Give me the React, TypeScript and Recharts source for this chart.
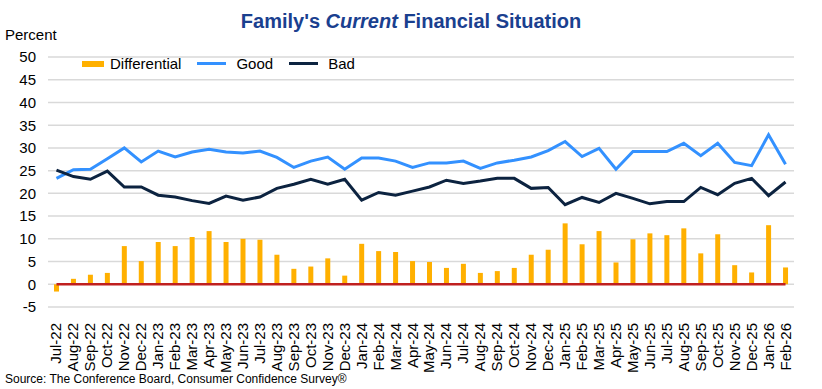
import { ComposedChart, Bar, Line, XAxis, YAxis, CartesianGrid, ReferenceLine } from 'recharts';

const months = [
  'Jul-22', 'Aug-22', 'Sep-22', 'Oct-22', 'Nov-22', 'Dec-22',
  'Jan-23', 'Feb-23', 'Mar-23', 'Apr-23', 'May-23', 'Jun-23', 'Jul-23', 'Aug-23', 'Sep-23', 'Oct-23', 'Nov-23', 'Dec-23',
  'Jan-24', 'Feb-24', 'Mar-24', 'Apr-24', 'May-24', 'Jun-24', 'Jul-24', 'Aug-24', 'Sep-24', 'Oct-24', 'Nov-24', 'Dec-24',
  'Jan-25', 'Feb-25', 'Mar-25', 'Apr-25', 'May-25', 'Jun-25', 'Jul-25', 'Aug-25', 'Sep-25', 'Oct-25', 'Nov-25', 'Dec-25',
  'Jan-26', 'Feb-26',
];

const good = [
  23.3, 25.2, 25.3, 27.6, 30.0, 26.9, 29.3, 28.0, 29.1, 29.7, 29.1, 28.9, 29.3, 27.9, 25.7,
  27.1, 28.0, 25.3, 27.8, 27.8, 27.1, 25.7, 26.7, 26.7, 27.1, 25.5, 26.7, 27.3, 28.0, 29.4,
  31.4, 28.1, 29.9, 25.3, 29.2, 29.2, 29.2, 31.0, 28.3, 31.0, 26.8, 26.1, 32.9, 26.4,
];

const bad = [
  25.1, 23.7, 23.1, 24.9, 21.4, 21.4, 19.6, 19.2, 18.4, 17.8, 19.4, 18.5, 19.2, 21.1, 22.0,
  23.1, 22.0, 23.1, 18.5, 20.2, 19.6, 20.5, 21.4, 22.9, 22.2, 22.7, 23.3, 23.3, 21.1, 21.3,
  17.5, 19.1, 18.0, 20.0, 18.9, 17.7, 18.2, 18.2, 21.3, 19.7, 22.2, 23.3, 19.5, 22.5,
];

const differential = [
  -1.6, 1.2, 2.1, 2.5, 8.4, 5.1, 9.3, 8.4, 10.4, 11.7, 9.3, 10.0, 9.8, 6.5, 3.4,
  3.9, 5.7, 1.9, 8.9, 7.3, 7.1, 5.1, 4.9, 3.6, 4.5, 2.5, 2.9, 3.6, 6.5, 7.6,
  13.4, 8.8, 11.7, 4.8, 9.9, 11.2, 10.8, 12.3, 6.8, 11.0, 4.2, 2.6, 13.0, 3.7,
];

const yTicks = [-5, 0, 5, 10, 15, 20, 25, 30, 35, 40, 45, 50];

const FONT = '"Liberation Sans", Arial, sans-serif';
const COLORS = { Differential: '#FFB000', Good: '#3391FF', Bad: '#0C2340' };

const legendItems = [
  { name: 'Differential', kind: 'rect' },
  { name: 'Good', kind: 'line' },
  { name: 'Bad', kind: 'line' },
];

const chartData = months.map((m, i) => ({
  month: m,
  Differential: differential[i],
  Good: good[i],
  Bad: bad[i],
}));

const MonthTick = ({ x, y, payload }: any) => (
  <text
    x={0}
    y={0}
    transform={`translate(${x + 5},${y + 8}) rotate(-90)`}
    textAnchor="end"
    fontSize={15}
    fill="#000"
    fontFamily={FONT}
  >
    {payload.value}
  </text>
);

export default function App() {
  return (
    <div style={{ position: 'absolute', left: 0, top: 0, width: 822, height: 389, background: '#fff', fontFamily: FONT }}>
      <div style={{ position: 'absolute', top: 10, left: 0, width: 822, textAlign: 'center', color: '#1A408F', fontSize: 20, fontWeight: 'bold' }}>
        Family's <i>Current</i> Financial Situation
      </div>
      <div style={{ position: 'absolute', top: 26, left: 5, fontSize: 15, color: '#000' }}>Percent</div>
      <ComposedChart
        width={822}
        height={389}
        data={chartData}
        margin={{ top: 57, right: 28, bottom: 22, left: 8 }}
      >
        <CartesianGrid vertical={false} stroke="#d9d9d9" strokeWidth={1.5} />
        <XAxis
          dataKey="month"
          interval={0}
          height={60}
          axisLine={false}
          tickLine={false}
          tick={<MonthTick />}
        />
        <YAxis
          domain={[-5, 50]}
          ticks={yTicks}
          interval={0}
          width={40}
          axisLine={false}
          tickLine={false}
          tick={{ fill: '#000', fontSize: 15, fontFamily: FONT }}
          tickMargin={6}
        />
        <Bar dataKey="Differential" fill={COLORS.Differential} barSize={5} isAnimationActive={false} />
        <Line dataKey="Good" stroke={COLORS.Good} strokeWidth={3} dot={false} type="linear" isAnimationActive={false} />
        <Line dataKey="Bad" stroke={COLORS.Bad} strokeWidth={3} dot={false} type="linear" isAnimationActive={false} />
        <ReferenceLine
          segment={[{ x: months[0], y: 0 }, { x: months[months.length - 1], y: 0 }]}
          stroke="#C0201F"
          strokeWidth={2.5}
        />
      </ComposedChart>
      <div style={{ position: 'absolute', top: 55, left: 82, display: 'flex', alignItems: 'center', fontSize: 15, color: '#000' }}>
        {legendItems.map((it) => (
          <div key={it.name} style={{ display: 'flex', alignItems: 'center', marginRight: 16 }}>
            {it.kind === 'rect' ? (
              <span style={{ width: 22, height: 6, background: COLORS[it.name as keyof typeof COLORS], marginRight: 6, display: 'inline-block' }} />
            ) : (
              <span style={{ width: 29, height: 3, background: COLORS[it.name as keyof typeof COLORS], marginRight: 10, display: 'inline-block' }} />
            )}
            <span>{it.name}</span>
          </div>
        ))}
      </div>
      <div style={{ position: 'absolute', top: 372, left: 5, fontSize: 12, color: '#000' }}>
        Source: The Conference Board, Consumer Confidence Survey®
      </div>
    </div>
  );
}
